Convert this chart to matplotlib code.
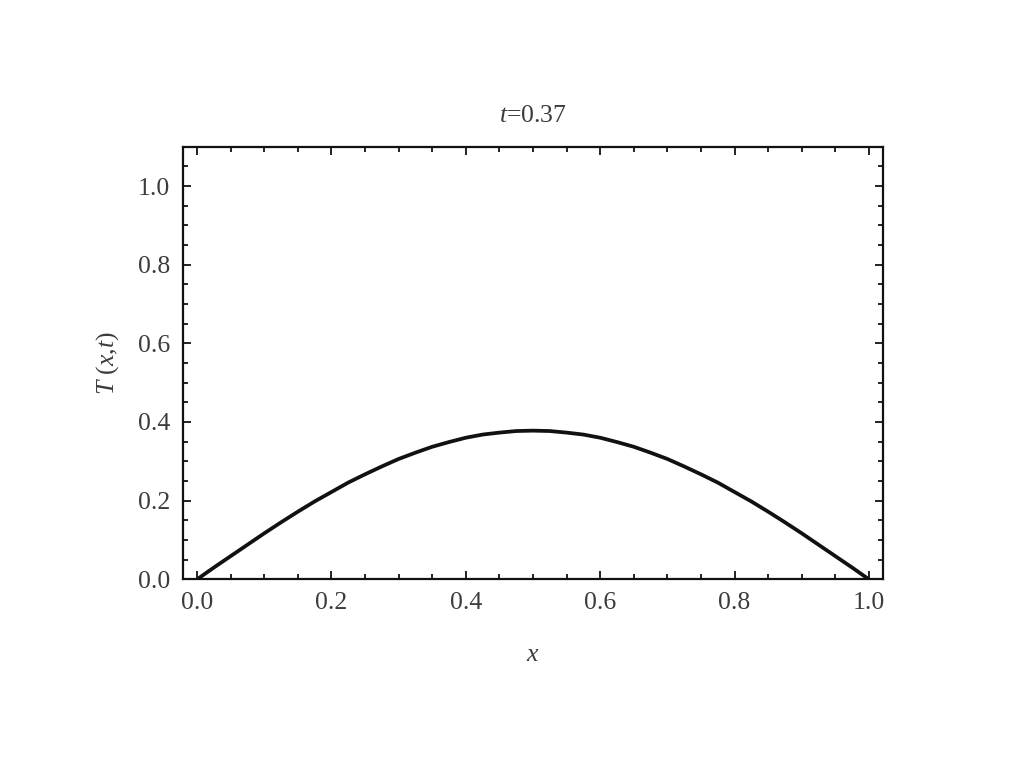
import matplotlib
matplotlib.use("Agg")
import matplotlib.pyplot as plt
from matplotlib.ticker import MultipleLocator

# curve (t = 0.37)
x_vals = [0.0, 0.025, 0.05, 0.075, 0.1, 0.125, 0.15, 0.175, 0.2, 0.225,
          0.25, 0.275, 0.3, 0.325, 0.35, 0.375, 0.4, 0.425, 0.45, 0.475,
          0.5, 0.525, 0.55, 0.575, 0.6, 0.625, 0.65, 0.675, 0.7, 0.725,
          0.75, 0.775, 0.8, 0.825, 0.85, 0.875, 0.9, 0.925, 0.95, 0.975, 1.0]
T_vals = [0.0, 0.030, 0.059, 0.088, 0.117, 0.145, 0.172, 0.198, 0.222, 0.246,
          0.267, 0.287, 0.306, 0.322, 0.337, 0.349, 0.360, 0.368, 0.373, 0.377,
          0.378, 0.377, 0.373, 0.368, 0.360, 0.349, 0.337, 0.322, 0.306, 0.287,
          0.267, 0.246, 0.222, 0.198, 0.172, 0.145, 0.117, 0.088, 0.059, 0.030, 0.0]
x_ticks = [0.0, 0.2, 0.4, 0.6, 0.8, 1.0]
y_ticks = [0.0, 0.2, 0.4, 0.6, 0.8, 1.0]

plt.rcParams['font.family'] = ['Liberation Serif', 'DejaVu Serif']
plt.rcParams['mathtext.fontset'] = 'custom'
plt.rcParams['mathtext.it'] = 'Liberation Serif:italic'
plt.rcParams['mathtext.rm'] = 'Liberation Serif'

txt = '#3c3c3c'

fig = plt.figure(figsize=(10.24, 7.68), dpi=100)
ax = fig.add_axes([0.1784, 0.2457, 0.6842, 0.5633])

ax.plot(x_vals, T_vals, color='#111111', lw=2.7, solid_capstyle='round',
        solid_joinstyle='round')

ax.set_xlim(-0.0215, 1.0215)
ax.set_ylim(0, 1.1)
ax.set_xticks(x_ticks)
ax.set_yticks(y_ticks)
ax.set_xticklabels(['%.1f' % v for v in x_ticks])
ax.set_yticklabels(['%.1f' % v for v in y_ticks])
ax.xaxis.set_minor_locator(MultipleLocator(0.05))
ax.yaxis.set_minor_locator(MultipleLocator(0.05))

ax.tick_params(which='both', direction='in', top=True, right=True,
               width=1.3, color='#111111', labelcolor=txt, labelsize=18.5)
ax.tick_params(which='major', length=6, pad=9)
ax.tick_params(which='minor', length=3.8)
for s in ax.spines.values():
    s.set_linewidth(1.6)
    s.set_color('#111111')

ax.set_title(r'$t$=0.37', fontsize=18.5, color=txt, pad=18)
ax.set_xlabel(r'$x$', fontsize=18.5, color=txt, labelpad=22)
ax.set_ylabel(r'$T$ ($x$,$t$)', fontsize=18.5, color=txt, labelpad=12)

fig.savefig('out.png', dpi=100)
